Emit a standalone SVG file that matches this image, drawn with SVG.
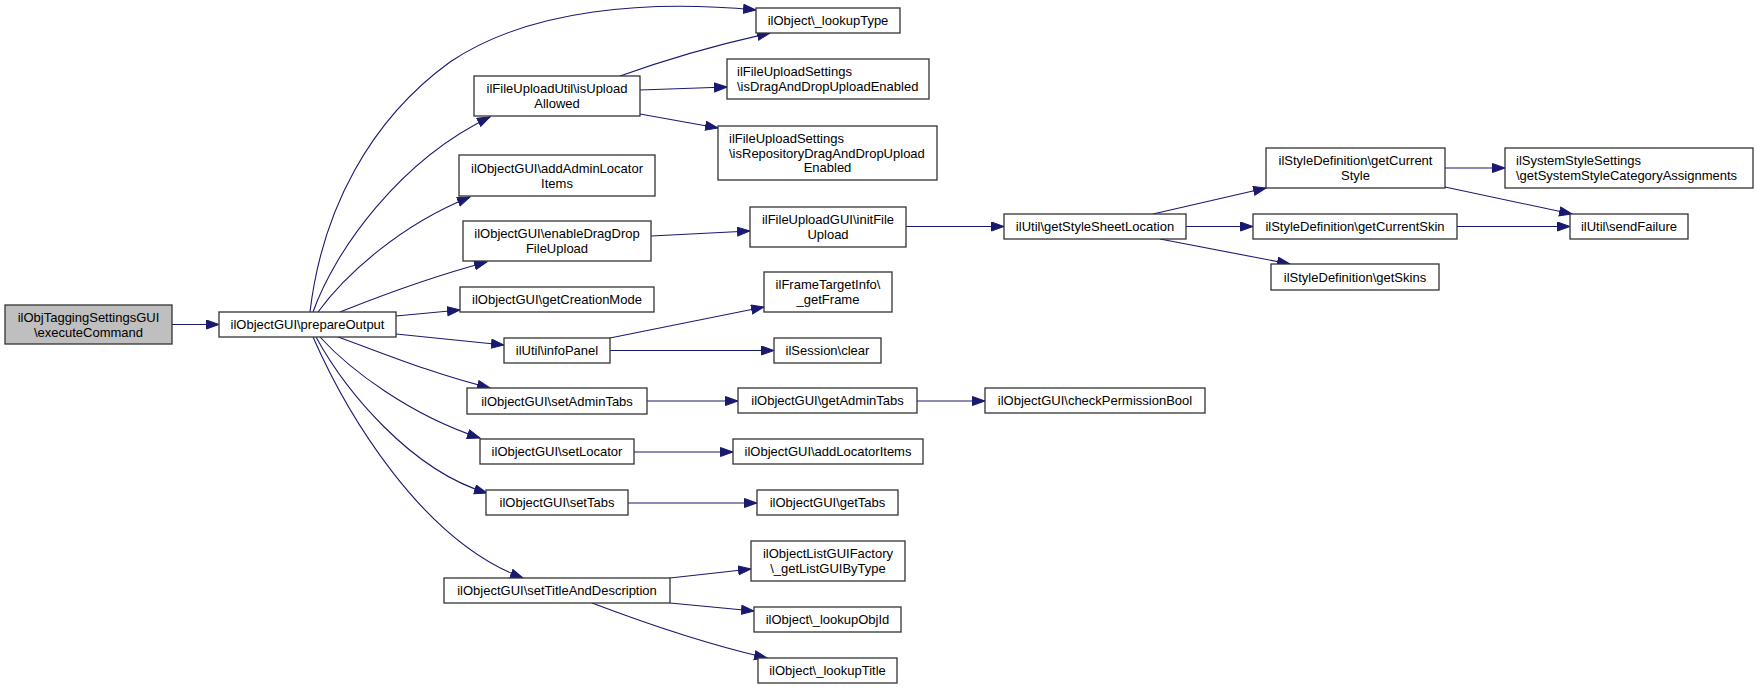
<svg xmlns="http://www.w3.org/2000/svg" width="1759" height="689" viewBox="0 0 1759 689">
<style>
.n rect{fill:#ffffff;stroke:#333333;stroke-width:1.3}
.n.root rect{fill:#bfbfbf}
.n text{font-family:"Liberation Sans",Arial,Helvetica,sans-serif;font-size:13px;fill:#000000;text-anchor:middle}
.n text.l{text-anchor:start}
#edges path{fill:none;stroke:#191970;stroke-width:1.1;marker-end:url(#ah)}
</style>
<defs>
<marker id="ah" markerUnits="userSpaceOnUse" markerWidth="14" markerHeight="11" refX="13" refY="5" orient="auto">
<path d="M0.5,0.5 L13,5 L0.5,9.5 z" fill="#191970" stroke="#191970" stroke-width="1"/>
</marker>
</defs>
<rect width="1759" height="689" fill="#ffffff"/>
<g id="edges">
<path d="M172,324.5 L219,324.5"/>
<path d="M310,312 C322,210 370,120 450,62 C530,8 650,0 756,10"/>
<path d="M313,312 C335,250 400,160 490,117"/>
<path d="M318,312 C345,275 400,225 470,197"/>
<path d="M340,312 C380,296 430,277 487,262"/>
<path d="M396,316 L460,310"/>
<path d="M396,334 L504,345"/>
<path d="M338,337 C380,352 430,373 490,388"/>
<path d="M320,337 C350,370 410,415 480,438"/>
<path d="M316,337 C345,390 410,470 487,493"/>
<path d="M313,337 C345,410 420,540 523,578"/>
<path d="M620,76 C670,58 720,44 770,33"/>
<path d="M640,90 L727,87"/>
<path d="M640,114 L718,128"/>
<path d="M651,236 L750,231"/>
<path d="M906,226.5 L1004,226.5"/>
<path d="M1153,214 L1266,188"/>
<path d="M1186,226.5 L1253,226.5"/>
<path d="M1160,239 L1290,264"/>
<path d="M1445,168 L1505,168"/>
<path d="M1445,187 L1572,214"/>
<path d="M1457,226.5 L1570,226.5"/>
<path d="M610,338 L764,307"/>
<path d="M610,350.5 L774,350.5"/>
<path d="M647,401 L738,401"/>
<path d="M917,401 L985,401"/>
<path d="M634,452 L733,452"/>
<path d="M628,503 L757,503"/>
<path d="M670,578 L751,569"/>
<path d="M670,603 L754,611"/>
<path d="M592,603 C650,625 710,645 767,658"/>
</g>
<g id="n1" class="n root"><rect x="5" y="305" width="167" height="39"/><text x="88.5" y="321.5">ilObjTaggingSettingsGUI</text><text x="88.5" y="336.5">\executeCommand</text></g>
<g id="n2" class="n"><rect x="219" y="312" width="177" height="25"/><text x="307.5" y="329">ilObjectGUI\prepareOutput</text></g>
<g id="n3" class="n"><rect x="756" y="8" width="144" height="25"/><text x="828" y="25">ilObject\_lookupType</text></g>
<g id="n4" class="n"><rect x="474" y="76" width="166" height="40"/><text x="557" y="93">ilFileUploadUtil\isUpload</text><text x="557" y="108">Allowed</text></g>
<g id="n5" class="n"><rect x="727" y="59" width="202" height="40"/><text class="l" x="737" y="76">ilFileUploadSettings</text><text class="l" x="737" y="91">\isDragAndDropUploadEnabled</text></g>
<g id="n6" class="n"><rect x="718" y="126" width="219" height="54"/><text class="l" x="729" y="142.5">ilFileUploadSettings</text><text class="l" x="729" y="157.5">\isRepositoryDragAndDropUpload</text><text x="827.5" y="172">Enabled</text></g>
<g id="n7" class="n"><rect x="459" y="155" width="196" height="41"/><text x="557" y="172.5">ilObjectGUI\addAdminLocator</text><text x="557" y="187.5">Items</text></g>
<g id="n8" class="n"><rect x="463" y="221" width="188" height="40"/><text x="557" y="238">ilObjectGUI\enableDragDrop</text><text x="557" y="253">FileUpload</text></g>
<g id="n9" class="n"><rect x="460" y="287" width="194" height="25"/><text x="557" y="304">ilObjectGUI\getCreationMode</text></g>
<g id="n10" class="n"><rect x="750" y="207" width="156" height="40"/><text x="828" y="224">ilFileUploadGUI\initFile</text><text x="828" y="239">Upload</text></g>
<g id="n11" class="n"><rect x="764" y="272" width="128" height="40"/><text x="828" y="289">ilFrameTargetInfo\</text><text x="828" y="304">_getFrame</text></g>
<g id="n12" class="n"><rect x="1004" y="214" width="182" height="25"/><text x="1095" y="231">ilUtil\getStyleSheetLocation</text></g>
<g id="n13" class="n"><rect x="1266" y="148" width="179" height="40"/><text x="1355.5" y="165">ilStyleDefinition\getCurrent</text><text x="1355.5" y="180">Style</text></g>
<g id="n14" class="n"><rect x="1505" y="148" width="248" height="40"/><text class="l" x="1516" y="165">ilSystemStyleSettings</text><text class="l" x="1516" y="180">\getSystemStyleCategoryAssignments</text></g>
<g id="n15" class="n"><rect x="1253" y="214" width="204" height="25"/><text x="1355" y="231">ilStyleDefinition\getCurrentSkin</text></g>
<g id="n16" class="n"><rect x="1570" y="214" width="118" height="25"/><text x="1629" y="231">ilUtil\sendFailure</text></g>
<g id="n17" class="n"><rect x="1271" y="264" width="168" height="26"/><text x="1355" y="281.5">ilStyleDefinition\getSkins</text></g>
<g id="n18" class="n"><rect x="504" y="338" width="106" height="25"/><text x="557" y="355">ilUtil\infoPanel</text></g>
<g id="n19" class="n"><rect x="774" y="338" width="107" height="25"/><text x="827.5" y="355">ilSession\clear</text></g>
<g id="n20" class="n"><rect x="467" y="388" width="180" height="26"/><text x="557" y="405.5">ilObjectGUI\setAdminTabs</text></g>
<g id="n21" class="n"><rect x="738" y="388" width="179" height="25"/><text x="827.5" y="405">ilObjectGUI\getAdminTabs</text></g>
<g id="n22" class="n"><rect x="985" y="388" width="220" height="25"/><text x="1095" y="405">ilObjectGUI\checkPermissionBool</text></g>
<g id="n23" class="n"><rect x="480" y="439" width="154" height="25"/><text x="557" y="456">ilObjectGUI\setLocator</text></g>
<g id="n24" class="n"><rect x="733" y="439" width="190" height="25"/><text x="828" y="456">ilObjectGUI\addLocatorItems</text></g>
<g id="n25" class="n"><rect x="486" y="490" width="142" height="25"/><text x="557" y="507">ilObjectGUI\setTabs</text></g>
<g id="n26" class="n"><rect x="757" y="490" width="141" height="25"/><text x="827.5" y="507">ilObjectGUI\getTabs</text></g>
<g id="n27" class="n"><rect x="444" y="578" width="226" height="25"/><text x="557" y="595">ilObjectGUI\setTitleAndDescription</text></g>
<g id="n28" class="n"><rect x="751" y="541" width="154" height="40"/><text x="828" y="558">ilObjectListGUIFactory</text><text x="828" y="573">\_getListGUIByType</text></g>
<g id="n29" class="n"><rect x="754" y="607" width="147" height="25"/><text x="827.5" y="624">ilObject\_lookupObjId</text></g>
<g id="n30" class="n"><rect x="758" y="658" width="139" height="25"/><text x="827.5" y="675">ilObject\_lookupTitle</text></g>
</svg>
